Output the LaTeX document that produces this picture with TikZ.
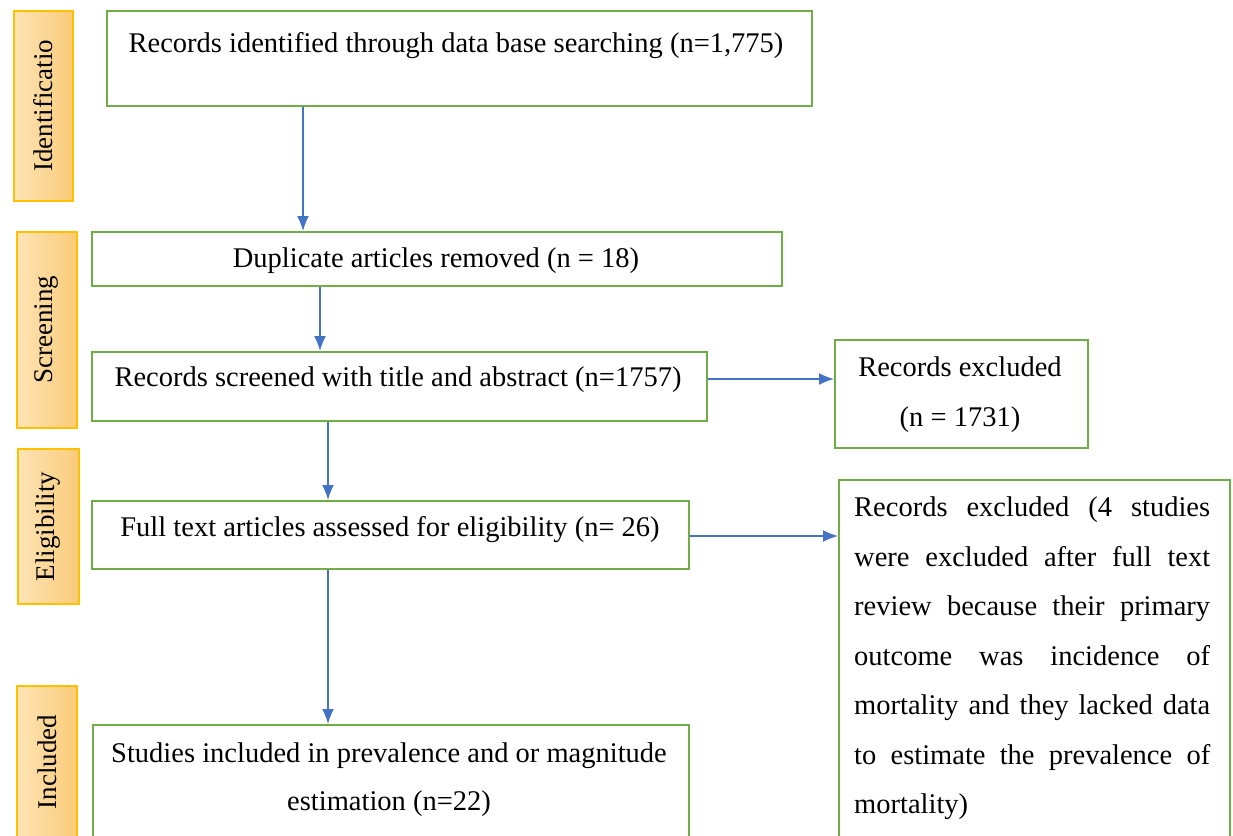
\documentclass[tikz,border=0pt]{standalone}
\usepackage{fontspec}
\setmainfont{Liberation Serif}
\usepackage{xcolor}
\usetikzlibrary{positioning, arrows.meta}
\definecolor{boxgreen}{HTML}{70AD47}
\definecolor{flowblue}{HTML}{4472C4}
\definecolor{stageline}{HTML}{FFC000}
\definecolor{stagelight}{HTML}{FEE4B6}
\definecolor{stagedark}{HTML}{F9CB78}

\begin{document}
\begin{tikzpicture}[x=1pt,y=-1pt,
    box/.style={draw=boxgreen, line width=1.8pt, anchor=north west, inner sep=0pt},
    stage/.style={draw=stageline, line width=1.8pt, left color=stagelight, right color=stagedark, anchor=north west, inner sep=0pt},
    txt/.style={font=\fontsize{28.5}{32}\selectfont, inner sep=0pt},
    stagetxt/.style={font=\fontsize{27}{30}\selectfont, inner sep=0pt, rotate=90},
    flow/.style={draw=flowblue, line width=1.6pt, -{Latex[length=15pt,width=12pt]}}]
    \clip (0,0) rectangle (1233,835);
    \fill[white] (0,0) rectangle (1233,835);
    % stage labels
    \node[stage, minimum width=59, minimum height=190] (idn) at (13,10) {};
    \node[stagetxt] (idntxt) at (idn.center) {Identificatio};
    \node[stage, minimum width=60, minimum height=196] (scn) at (16,231) {};
    \node[stagetxt] (scntxt) at (scn.center) {Screening};
    \node[stage, minimum width=61, minimum height=155] (elg) at (17,448) {};
    \node[stagetxt] (elgtxt) at (elg.center) {Eligibility};
    \node[stage, minimum width=60, minimum height=170] (inc) at (16,685) {};
    \coordinate (incmid) at (0,762);
    \node[stagetxt] (inctxt) at (inc.center |- incmid) {Included};
    % flow boxes
    \node[box, minimum width=705, minimum height=95] (rec) at (106,10) {};
    \node[txt] (rectxt) at (456,46) {Records identified through data base searching (n=1,775)};
    \node[box, minimum width=690, minimum height=54] (dup) at (91,231) {};
    \node[txt] (duptxt) at (436,261) {Duplicate articles removed (n = 18)};
    \node[box, minimum width=615, minimum height=69] (scr) at (91,351) {};
    \node[txt] (scrtxt) at (398,380) {Records screened with title and abstract (n=1757)};
    \node[box, minimum width=253, minimum height=108] (exa) at (834,339) {};
    \node[txt, align=center] (exatxt) at (960,395) {Records excluded\\[18pt](n = 1731)};
    \node[box, minimum width=597, minimum height=68] (ful) at (91,500) {};
    \node[txt] (fultxt) at (390,530) {Full text articles assessed for eligibility (n= 26)};
    \node[box, minimum width=391, minimum height=380] (exb) at (838,479) {};
    \node[txt, anchor=north west, text width=356pt, align=justify,
        font=\fontsize{28.5}{49.5}\selectfont] (exbtxt) at (854,497)
        {Records excluded (4 studies\linebreak were excluded after full text\linebreak
        review because their primary\linebreak outcome was incidence of\linebreak
        mortality and they lacked data\linebreak to estimate the prevalence of\linebreak
        mortality)};
    \node[box, minimum width=596, minimum height=130] (stu) at (92,724) {};
    \node[txt, align=center] (stutxt) at (389,780) {Studies included in prevalence and or magnitude\\[16pt]estimation (n=22)};
    % connectors
    \coordinate (va) at (303,0);
    \coordinate (vb) at (320,0);
    \coordinate (vc) at (328,0);
    \coordinate (ha) at (0,379);
    \coordinate (hb) at (0,536);
    \draw[flow] (va |- rec.south) -- (va |- dup.north);
    \draw[flow] (vb |- dup.south) -- (vb |- scr.north);
    \draw[flow] (vc |- scr.south) -- (vc |- ful.north);
    \draw[flow] (vc |- ful.south) -- (vc |- stu.north);
    \draw[flow] (ha -| scr.east) -- (ha -| exa.west);
    \draw[flow] (hb -| ful.east) -- (hb -| exb.west);
\end{tikzpicture}
\end{document}
